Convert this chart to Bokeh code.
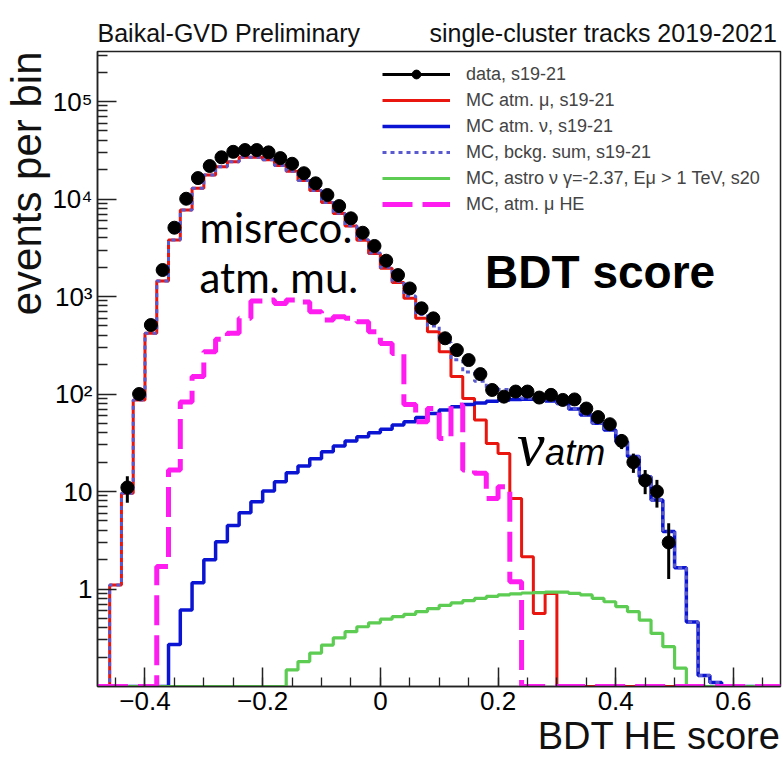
import numpy as np
from bokeh.plotting import figure
from bokeh.models import (Range1d, FixedTicker, CustomJSTickFormatter, Label,
                          Legend, LegendItem, Title)
from bokeh.embed import file_html
from bokeh.resources import INLINE

# ---------------- data ----------------
BIN_WIDTH = 0.02
HIST_LO = -0.48
HIST_HI = 0.68

# data points: bin centres start at -0.43
data_first_center = -0.43
data_counts = [11, 100, 510, 1870, 5080, 10070, 16400, 21800, 26800, 30500,
               31800, 31800, 30100, 26300, 23000, 18400, 14500, 11000, 8470, 6340,
               4510, 3300, 2330, 1660, 1210, 757, 597, 373, 282, 223,
               160, 110, 94, 106, 106, 92, 98, 87, 88, 71,
               58, 49, 33, 20, 13, 10, 3]

# MC atm. mu (left bin edge of first value)
mu_first_edge = -0.46
mu_vals = [1.1, 9.6, 87, 420, 1440, 3800, 7700, 12900, 17600, 21400,
           24100, 26800, 26800, 25300, 22100, 19300, 15500, 12200, 9200, 7100,
           5300, 3780, 2760, 1950, 1390, 958, 597, 435, 272, 151,
           90, 54, 31, 24.6, 8.5, 2.14, 0.56, 0.9]

# MC atm. nu
nu_first_edge = -0.36
nu_vals = [0.27, 0.61, 1.16, 2.0, 3.06, 4.47, 6.07, 7.87, 10.1, 12.6,
           15.6, 18.3, 21.7, 25.6, 29.3, 33, 36.5, 40, 43.5, 48,
           52, 57.6, 63, 68.5, 74, 78, 81, 84.5, 86.8, 88,
           88.5, 88, 85, 80, 70, 61, 50, 42.7, 32.4, 22.8,
           14.2, 8.2, 3.9, 1.65, 0.46, 0.13, 0.11]

# MC astro nu
astro_first_edge = -0.16
astro_vals = [0.148, 0.18, 0.22, 0.266, 0.316, 0.365, 0.41, 0.45, 0.49, 0.52,
              0.55, 0.585, 0.63, 0.68, 0.72, 0.76, 0.80, 0.84, 0.87, 0.89,
              0.91, 0.92, 0.93, 0.93, 0.90, 0.87, 0.80, 0.74, 0.66, 0.585,
              0.48, 0.35, 0.256, 0.154]

# MC atm. mu HE
muhe_first_edge = -0.38
muhe_vals = [1.7, 16.6, 83, 151, 272, 364, 419, 600, 900, 920,
             850, 920, 880, 700, 574, 621, 600, 551, 435, 330,
             260, 78, 52, 71, 35, 77, 16.6, 15.4, 8.5, 11.2,
             1.19]

x_major_ticks = [-0.4, -0.2, 0.0, 0.2, 0.4, 0.6]
y_major_ticks = [1, 10, 100, 1000, 10000, 100000]

legend_labels = ["data, s19-21",
                 "MC atm. \u03bc, s19-21",
                 "MC atm. \u03bd, s19-21",
                 "MC, bckg. sum, s19-21",
                 "MC, astro \u03bd \u03b3=-2.37, E\u03bc > 1 TeV, s20",
                 "MC, atm. \u03bc HE"]

header_left = "Baikal-GVD Preliminary"
header_right = "single-cluster tracks 2019-2021"
x_title = "BDT HE score"
y_title = "events per bin"

# ---------------- helpers ----------------
Y_MIN, Y_MAX = 0.1, 3.26e5
n_bins = int(round((HIST_HI - HIST_LO) / BIN_WIDTH))
edges = HIST_LO + BIN_WIDTH * np.arange(n_bins + 1)


def on_grid(first_edge, vals):
    full = np.zeros(n_bins)
    i0 = int(round((first_edge - HIST_LO) / BIN_WIDTH))
    full[i0:i0 + len(vals)] = vals
    return full


def step_xy(full):
    y = np.maximum(full, Y_MIN)
    return edges, np.append(y, y[-1])


mu_full = on_grid(mu_first_edge, mu_vals)
nu_full = on_grid(nu_first_edge, nu_vals)
astro_full = on_grid(astro_first_edge, astro_vals)
muhe_full = on_grid(muhe_first_edge, muhe_vals)
sum_full = mu_full + nu_full

data_y = np.array(data_counts, dtype=float)
data_x = data_first_center + BIN_WIDTH * np.arange(len(data_y))
err = np.sqrt(data_y)

# ---------------- figure ----------------
p = figure(width=782, height=761, y_axis_type="log",
           x_range=Range1d(-0.4807, 0.680), y_range=Range1d(Y_MIN, Y_MAX),
           output_backend="svg", toolbar_location=None,
           min_border_left=97, min_border_right=2, min_border_top=51,
           min_border_bottom=75)
p.xgrid.visible = False
p.ygrid.visible = False
p.outline_line_color = "#222222"
p.outline_line_width = 1.5
p.background_fill_color = "white"
p.border_fill_color = "white"

# header line above the frame (one title, two parts)
p.title.text = header_left + "\u00a0" * 10 + header_right
p.title.align = "left"
p.title.text_font = "Liberation Sans"
p.title.text_font_style = "normal"
p.title.text_font_size = "25px"
p.title.text_color = "#111111"
p.title.standoff = 9

RED = "#e8160f"
BLUE = "#0a14d2"
SUMC = "#5a5ad0"
GREEN = "#5ccc52"
MAGENTA = "#ff1cf0"

x, y = step_xy(mu_full)
mu_r = p.step(x, y, mode="after", line_color=RED, line_width=3)
x, y = step_xy(nu_full)
nu_r = p.step(x, y, mode="after", line_color=BLUE, line_width=3.5)
x, y = step_xy(sum_full)
sum_r = p.step(x, y, mode="after", line_color=SUMC, line_width=3, line_dash="4 4")
x, y = step_xy(astro_full)
astro_r = p.step(x, y, mode="after", line_color=GREEN, line_width=3.2)
x, y = step_xy(muhe_full)
muhe_r = p.step(x, y, mode="after", line_color=MAGENTA, line_width=5, line_dash="30 10")

err_r = p.segment(x0=data_x, y0=np.maximum(data_y - err, Y_MIN), x1=data_x,
                  y1=data_y + err, line_color="black", line_width=3)
pts_r = p.scatter(data_x, data_y, size=13, fill_color="black", line_color="black")

# ---------------- axes ----------------
for ax in (p.xaxis[0], p.yaxis[0]):
    ax.axis_line_color = "#222222"
    ax.axis_line_width = 1.5
    ax.major_tick_line_color = "#222222"
    ax.minor_tick_line_color = "#222222"
    ax.major_tick_line_width = 1.5
    ax.minor_tick_line_width = 1.3
    ax.major_tick_out = 0
    ax.minor_tick_out = 0
    ax.major_label_text_font = "Liberation Sans"
    ax.major_label_text_color = "black"
    ax.axis_label = None

p.xaxis.ticker = FixedTicker(ticks=x_major_ticks,
                             minor_ticks=[round(-0.45 + 0.05 * k, 2) for k in range(23)])
p.xaxis.formatter = CustomJSTickFormatter(code="""
if (Math.abs(tick) < 1e-9) return "0";
const s = Math.abs(tick).toFixed(1);
return tick < 0 ? "\u2212" + s : s;
""")
p.xaxis.major_tick_in = 19
p.xaxis.minor_tick_in = 9
p.xaxis.major_label_text_font_size = "26px"
p.xaxis.major_label_standoff = 5

p.yaxis.ticker = FixedTicker(ticks=y_major_ticks,
                             minor_ticks=[m * 10.0 ** d for d in range(-1, 6) for m in range(2, 10)])
p.yaxis.formatter = CustomJSTickFormatter(code="""
const e = Math.round(Math.log10(tick));
const sup = ["\u2070", "\u00b9", "\u00b2", "\u00b3", "\u2074", "\u2075", "\u2076"];
if (e === 0) return "1";
if (e === 1) return "10";
return "10" + sup[e];
""")
p.yaxis.major_tick_in = 19
p.yaxis.minor_tick_in = 10
p.yaxis.major_label_text_font_size = "26px"
p.yaxis.major_label_standoff = 5

# axis titles (ROOT style: aligned to the axis end)
p.add_layout(Title(text=x_title, align="right", text_font="Liberation Sans",
                   text_font_style="normal", text_font_size="38px",
                   text_color="#111111", standoff=0), "below")
p.add_layout(Title(text=y_title, align="right", text_font="Liberation Sans",
                   text_font_style="normal", text_font_size="42px",
                   text_color="#111111", standoff=0), "left")

# ---------------- legend ----------------
items = [LegendItem(label=legend_labels[0], renderers=[err_r, pts_r]),
         LegendItem(label=legend_labels[1], renderers=[mu_r]),
         LegendItem(label=legend_labels[2], renderers=[nu_r]),
         LegendItem(label=legend_labels[3], renderers=[sum_r]),
         LegendItem(label=legend_labels[4], renderers=[astro_r]),
         LegendItem(label=legend_labels[5], renderers=[muhe_r])]
legend = Legend(items=items, location=(281, 467), label_text_font="Liberation Sans",
                label_text_font_size="18px", glyph_width=68, glyph_height=22,
                label_height=22, spacing=4, padding=4, margin=0, label_standoff=16,
                border_line_alpha=0, background_fill_alpha=0)
p.add_layout(legend)

# ---------------- texts inside the frame ----------------
p.add_layout(Label(x=-0.3074, y=2860, text="misreco.", text_font="Lato",
                   text_font_size="42px", text_color="black"))
p.add_layout(Label(x=-0.3074, y=879, text="atm. mu.", text_font="Lato",
                   text_font_size="42px", text_color="black"))
p.add_layout(Label(x=0.178, y=965, text="BDT score", text_font="Liberation Sans",
                   text_font_style="bold", text_font_size="46px", text_color="black"))
p.add_layout(Label(x=0.232, y=13.7, text="\u03bd", text_font="Liberation Serif",
                   text_font_style="italic", text_font_size="62px", text_color="black"))
p.add_layout(Label(x=0.280, y=15.5, text="atm", text_font="Liberation Sans",
                   text_font_style="italic", text_font_size="36px", text_color="black"))

open("out.html", "w").write(file_html(p, INLINE))
